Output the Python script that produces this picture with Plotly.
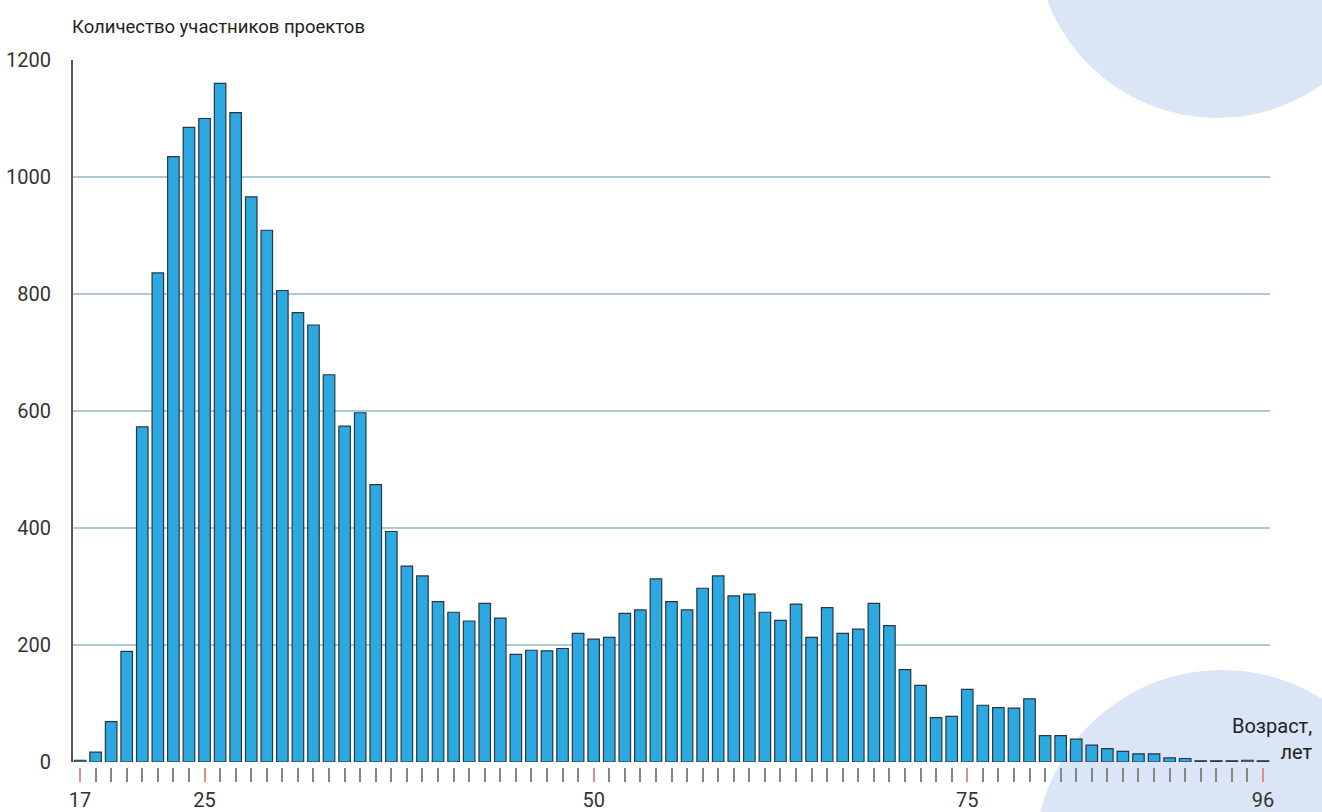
import plotly.graph_objects as go

# ---- data ----
ages = list(range(17, 94))
participants = [
    3, 17, 69, 189, 573, 836, 1035, 1085, 1100, 1160,
    1110, 966, 909, 806, 768, 747, 662, 574, 597, 474,
    394, 335, 318, 274, 256, 241, 271, 246, 184, 191,
    190, 194, 220, 210, 213, 254, 260, 313, 274, 260,
    297, 318, 284, 287, 256, 242, 270, 213, 264, 220,
    227, 271, 233, 158, 131, 76, 78, 124, 97, 93,
    92, 108, 45, 45, 39, 29, 23, 18, 14, 14,
    7, 6, 2, 2, 2, 3, 2,
]
label_positions = [17, 25, 50, 74, 93]
label_texts = ["17", "25", "50", "75", "96"]
y_ticks = [0, 200, 400, 600, 800, 1000, 1200]

title_text = "Количество участников проектов"
xaxis_text = "Возраст,<br>лет"

FONT = "Roboto, Liberation Sans, sans-serif"

fig = go.Figure()
fig.add_trace(go.Bar(
    x=ages, y=participants,
    marker=dict(color="#2ca9e1", line=dict(color="#2a3740", width=1.2)),
    showlegend=False, hoverinfo="x+y",
))
# helper trace for the overlaid label axis
fig.add_trace(go.Scatter(
    x=label_positions, y=[None] * len(label_positions), xaxis="x2",
    mode="markers", showlegend=False, hoverinfo="skip",
))

x_range = [ages[0] - 0.45, ages[-1] + 0.45]

fig.update_layout(
    width=1322, height=812,
    margin=dict(l=73, r=52, t=60, b=45, autoexpand=False),
    paper_bgcolor="white",
    plot_bgcolor="rgba(0,0,0,0)",
    bargap=0.26,
    font=dict(family=FONT, color="#333333", size=20),
    xaxis=dict(
        range=x_range, anchor="free", position=0, automargin=False,
        tickmode="array", tickvals=ages, showticklabels=False,
        ticks="outside", ticklen=14, tickwidth=1.6, tickcolor="#858585",
        showgrid=False, zeroline=False, showline=False, fixedrange=True,
    ),
    xaxis2=dict(
        range=x_range, overlaying="x", anchor="free", position=0, side="bottom",
        automargin=False,
        tickmode="array", tickvals=label_positions, ticktext=label_texts,
        ticks="outside", ticklen=14, tickwidth=1.6, tickcolor="#e08c8c",
        tickfont=dict(family=FONT, size=20, color="#333333"),
        ticklabelstandoff=1,
        showgrid=False, zeroline=False, showline=False,
    ),
    yaxis=dict(
        range=[0, 1200], domain=[5 / 707, 1], automargin=False,
        tickmode="array", tickvals=y_ticks,
        showgrid=True, gridcolor="rgba(110,155,178,0.55)", gridwidth=2,
        zeroline=True, zerolinecolor="rgba(0,0,0,0)",
        showline=True, linecolor="#555555", linewidth=2,
        ticks="", ticklabelstandoff=16,
        tickfont=dict(family=FONT, size=20, color="#333333"),
    ),
    shapes=[
        dict(type="circle", xref="paper", yref="paper", layer="below",
             x0=0.8042, x1=1.1075, y0=0.918, y1=1.4328,
             fillcolor="#dae6f6", line=dict(width=0)),
        dict(type="circle", xref="paper", yref="paper", layer="below",
             x0=0.8033, x1=1.1167, y0=-0.3946, y1=0.1372,
             fillcolor="#dae6f6", line=dict(width=0)),
    ],
    annotations=[
        dict(text=title_text, xref="paper", yref="paper", x=-0.0025, y=1.0467,
             xanchor="left", yanchor="middle", showarrow=False,
             font=dict(family=FONT, size=18.5, color="#222222")),
        dict(text=xaxis_text, xref="paper", yref="paper", x=1.038, y=0.039,
             xanchor="right", yanchor="middle", align="right", showarrow=False,
             font=dict(family=FONT, size=20, color="#222222")),
    ],
)

fig.write_html(
    "out.html",
    config={"displayModeBar": False},
    post_script="document.body.style.margin='0';document.body.style.overflow='hidden';",
)
